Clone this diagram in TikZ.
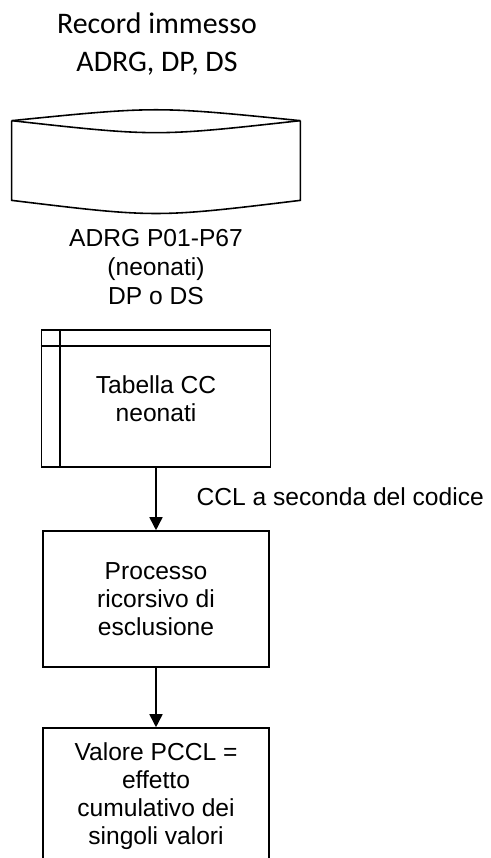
\documentclass[tikz,border=0pt]{standalone}
\usepackage{fontspec}
\setmainfont{Liberation Sans}
\newfontfamily\calibri{Carlito}
\usetikzlibrary{arrows.meta}
\tikzstyle{titolo} = [align=center, font=\calibri\fontsize{17}{21.5}\selectfont]
\tikzstyle{testo} = [align=center, font=\fontsize{14}{16.5}\selectfont]
\tikzstyle{disco} = [rectangle, minimum width=5.76cm, minimum height=2.06cm]
\tikzstyle{tab} = [rectangle, minimum width=4.58cm, minimum height=2.74cm, text centered, draw=black, line width=0.9pt, align=center, font=\fontsize{14}{16}\selectfont]
\tikzstyle{pro} = [rectangle, minimum width=4.52cm, minimum height=2.72cm, text centered, draw=black, line width=0.9pt, align=center, font=\fontsize{14}{16}\selectfont]
\tikzstyle{arrow} = [line width=0.9pt,-{Triangle[length=0.26cm,width=0.26cm]}]

\begin{document}
\begin{tikzpicture}[node distance=2cm]
\useasboundingbox (0,0) rectangle (9.8,-17.16);
% Drawing nodes
\node (rec) [titolo] at (3.14,-0.88) {Record immesso\\ADRG, DP, DS};
\node (disk) [disco, below of=rec, xshift=-0.02cm, yshift=-0.35cm] {};
\node (adrg) [testo, below of=disk, yshift=-0.11cm] {ADRG P01-P67\\(neonati)\\DP o DS};
\node (tab1) [tab, below of=adrg, yshift=-0.63cm] {Tabella CC\\neonati};
\node (pro1) [pro, below of=tab1, yshift=-2.01cm] {Processo\\ricorsivo di\\esclusione};
\node (pro2) [pro, below of=pro1, yshift=-1.94cm] {Valore PCCL =\\effetto\\cumulativo dei\\singoli valori};

% Drawing the stored data shape
\draw [line width=0.9pt] ([yshift=-0.22cm]disk.north west) .. controls ([yshift=0.07cm]disk.north) .. ([yshift=-0.22cm]disk.north east);
\draw [line width=0.9pt] ([yshift=-0.22cm]disk.north west) .. controls ([yshift=-0.54cm]disk.north) .. ([yshift=-0.22cm]disk.north east);
\draw [line width=0.9pt] ([yshift=-0.22cm]disk.north west) -- ([yshift=0.26cm]disk.south west)
  .. controls ([yshift=-0.09cm]disk.south) .. ([yshift=0.26cm]disk.south east) -- ([yshift=-0.22cm]disk.north east);

% Drawing table lines
\draw [line width=0.9pt] ([xshift=0.38cm]tab1.north west) -- ([xshift=0.38cm]tab1.south west);
\draw [line width=0.9pt] ([yshift=-0.34cm]tab1.north west) -- ([yshift=-0.34cm]tab1.north east);

% Drawing arrows
\draw [arrow] (tab1) -- node (ccl) [testo, right, xshift=0.68cm, yshift=0.04cm] {CCL a seconda del codice} (pro1);
\draw [arrow] (pro1) -- (pro2);
\end{tikzpicture}
\end{document}
